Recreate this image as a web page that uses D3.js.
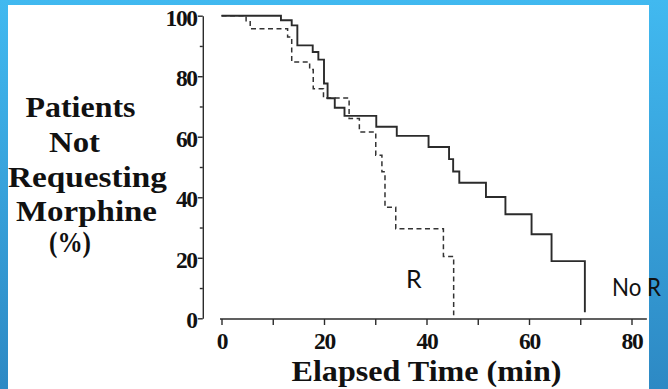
<!DOCTYPE html>
<html>
<head>
<meta charset="utf-8">
<script src="https://cdn.jsdelivr.net/npm/d3@7"></script>
<style>
  body { margin: 0; padding: 0; overflow: hidden; }
  svg { display: block; }
</style>
</head>
<body>
<svg id="chart" width="668" height="389"></svg>
<script>
// "No R" group (solid line): times of each step (min) and % left after the step
const noRTimes  = [0, 11.6, 13.7, 14.8, 17.8, 18.9, 20.0, 20.7, 22.1, 24.0, 30.2, 34.2, 40.4, 44.4, 45.2, 46.4, 51.6, 55.4, 60.5, 64.4, 70.9];
const noRValues = [100, 98.5, 96.8, 90.2, 88, 85.5, 77.6, 72.7, 69.6, 66.9, 63.3, 60.3, 56.6, 52.6, 48.5, 44.8, 40.1, 34.4, 27.8, 18.9, 2];

// "R" group (dashed line)
const rTimes  = [0, 4.8, 5.6, 12.9, 13.7, 17.2, 17.9, 19.9, 24.9, 26.9, 30.1, 31.3, 31.9, 34.0, 43.3, 45.3];
const rValues = [100, 98, 95.7, 93, 84.7, 82.2, 75.9, 72.8, 66, 61.6, 53.9, 48.4, 36.7, 29.6, 20.4, 1];

const xMajor = [0, 20, 40, 60, 80];
const xMinor = [10, 30, 50, 70];
const yMajor = [0, 20, 40, 60, 80, 100];
const yMinor = [10, 30, 50, 70, 90];
const xAxisEnd = 83;

const yTitleLines = ["Patients", "Not", "Requesting", "Morphine", "(%)"];
const xTitle = "Elapsed Time (min)";

const svg = d3.select("#chart");

// blue slide background + white panel
const defs = svg.append("defs");
const grad = defs.append("linearGradient")
  .attr("id", "bg").attr("x1", 0).attr("y1", 0).attr("x2", 0).attr("y2", 1);
grad.append("stop").attr("offset", "0%").attr("stop-color", "#41b9f0");
grad.append("stop").attr("offset", "100%").attr("stop-color", "#2d89c4");

svg.append("rect").attr("width", 668).attr("height", 389).attr("fill", "url(#bg)");
svg.append("rect")
  .attr("x", 8).attr("y", 5)
  .attr("width", 641).attr("height", 384)
  .attr("fill", "#fff");

const x = d3.scaleLinear().domain([0, 80]).range([221.5, 631.5]);
const y = d3.scaleLinear().domain([0, 100]).range([318.3, 15.7]);

const ink = "#2b2b2b";
const serif = "'Liberation Serif', 'Times New Roman', serif";

// y axis
const yAxisX = 202.8;
const yAx = svg.append("g").attr("transform", `translate(${yAxisX},0)`);
yAx.call(d3.axisLeft(y).tickValues(yMajor).tickSize(5).tickSizeOuter(0).tickPadding(1));
yAx.append("g").call(d3.axisLeft(y).tickValues(yMinor).tickSize(3).tickSizeOuter(0).tickFormat(""))
  .select(".domain").remove();
yAx.selectAll("path, line").attr("stroke", ink).attr("stroke-width", 1.4);
yAx.selectAll("text")
  .attr("fill", "#111")
  .attr("dy", "0.4em")
  .style("font-family", serif)
  .style("font-weight", "bold")
  .style("font-size", "23.5px")
  .style("letter-spacing", "-1.3px");

// x axis
const xAxisY = 319;
const xAx = svg.append("g").attr("transform", `translate(0,${xAxisY})`);
xAx.call(d3.axisBottom(x).tickValues(xMajor.concat(xMinor)).tickSize(6).tickSizeOuter(0)
  .tickFormat(d => xMajor.includes(d) ? d : ""));
xAx.select(".domain").remove();
xAx.append("line")
  .attr("x1", x(0) - 1.5).attr("x2", x(xAxisEnd))
  .attr("y1", 0).attr("y2", 0);
xAx.selectAll("path, line").attr("stroke", ink).attr("stroke-width", 1.4);
xAx.selectAll("text")
  .attr("fill", "#111")
  .attr("y", 29.5).attr("dy", 0)
  .style("font-family", serif)
  .style("font-weight", "bold")
  .style("font-size", "23.5px")
  .style("letter-spacing", "-1.3px");

// curves
const line = d3.line()
  .x(d => x(d[0]))
  .y(d => y(d[1]))
  .curve(d3.curveStepAfter);

const rData = rTimes.map((t, i) => [t, rValues[i]]);
const noRData = noRTimes.map((t, i) => [t, noRValues[i]]);

svg.append("path")
  .datum(rData)
  .attr("d", line)
  .attr("fill", "none")
  .attr("stroke", "#333")
  .attr("stroke-width", 1.5)
  .attr("stroke-dasharray", "5,3.5");

svg.append("path")
  .datum(noRData)
  .attr("d", line)
  .attr("fill", "none")
  .attr("stroke", ink)
  .attr("stroke-width", 1.9);

// series labels
const sans = "Lato, 'Open Sans', sans-serif";
svg.append("text")
  .attr("x", 406).attr("y", 288)
  .attr("fill", "#111")
  .style("font-family", sans)
  .style("font-size", "25px")
  .text("R");

svg.append("text")
  .attr("x", 612).attr("y", 295.5)
  .attr("textLength", 49)
  .attr("lengthAdjust", "spacingAndGlyphs")
  .attr("fill", "#111")
  .style("font-family", sans)
  .style("font-size", "25px")
  .text("No R");

// axis titles
const yTitlePos = [
  { x: 25.5, y: 117, w: 110 },
  { x: 49, y: 152, w: 51 },
  { x: 8, y: 186.5, w: 159 },
  { x: 16, y: 221, w: 141 },
  { x: 49, y: 252, w: 42 }
];
svg.append("g").selectAll("text")
  .data(yTitleLines)
  .join("text")
  .attr("x", (d, i) => yTitlePos[i].x)
  .attr("y", (d, i) => yTitlePos[i].y)
  .attr("textLength", (d, i) => yTitlePos[i].w)
  .attr("lengthAdjust", "spacingAndGlyphs")
  .attr("fill", "#111")
  .style("font-family", serif)
  .style("font-weight", "bold")
  .style("font-size", "30px")
  .text(d => d);

svg.append("text")
  .attr("x", 291.5).attr("y", 381)
  .attr("textLength", 270)
  .attr("lengthAdjust", "spacingAndGlyphs")
  .attr("fill", "#111")
  .style("font-family", serif)
  .style("font-weight", "bold")
  .style("font-size", "29px")
  .text(xTitle);
</script>
</body>
</html>
